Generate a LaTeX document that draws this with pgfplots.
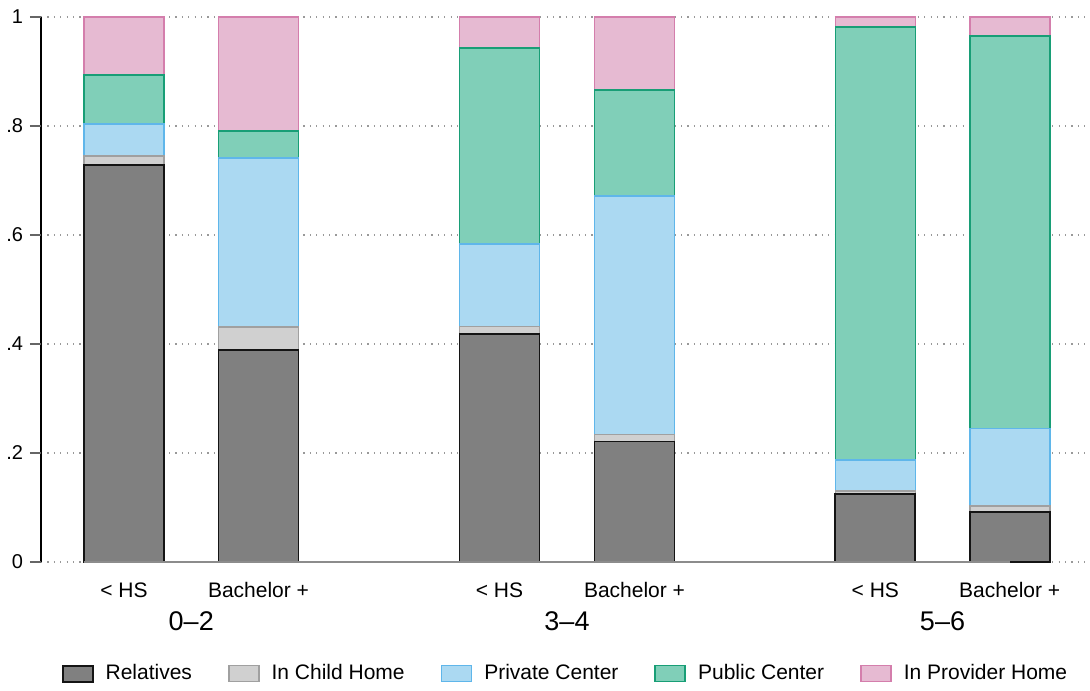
\documentclass[border=0pt]{standalone}
\usepackage{pgfplots}
\pgfplotsset{compat=1.18}
\usepackage{fontspec}
\setmainfont{Liberation Sans}
\definecolor{relF}{RGB}{128,128,128}
\definecolor{relD}{RGB}{20,20,20}
\definecolor{chF}{RGB}{208,208,208}
\definecolor{chD}{RGB}{160,160,160}
\definecolor{prF}{RGB}{171,217,242}
\definecolor{prD}{RGB}{95,182,234}
\definecolor{puF}{RGB}{128,207,184}
\definecolor{puD}{RGB}{24,158,118}
\definecolor{pvF}{RGB}{230,186,210}
\definecolor{pvD}{RGB}{212,126,172}
\begin{document}
\begin{tikzpicture}
\begin{axis}[
  at={(0,0)}, anchor=south west,
  scale only axis, width=523.5pt, height=272.5pt,
  xmin=41, xmax=1088, ymin=0, ymax=1,
  ybar stacked, bar width=40pt,
  clip=false,
  axis lines*=left,
  x axis line style={draw=none},
  y axis line style={black, line width=0.7pt},
  xtick={124,258.5,499.5,634.5,875.3,1009.7},
  xticklabels={{< HS},{Bachelor +},{< HS},{Bachelor +},{< HS},{Bachelor +}},
  every x tick/.style={draw=none},
  xticklabel style={font=\fontsize{10.5pt}{12pt}\selectfont, anchor=base, yshift=-12.3pt},
  ytick={0,0.2,0.4,0.6,0.8,1},
  yticklabels={0,.2,.4,.6,.8,1},
  ytick pos=left,
  yticklabel style={font=\fontsize{10pt}{12pt}\selectfont},
  every y tick/.style={black!60, line width=0.7pt},
  tick align=outside, major tick length=5.5pt,
  ymajorgrids,
  y grid style={black!40, line width=0.6pt, dash pattern=on 0.6pt off 2.6pt},
  legend columns=5,
  legend style={at={(axis description cs:0.5,0)}, anchor=center, yshift=-55.8pt, xshift=1pt,
    draw=none, font=\fontsize{10.5pt}{12pt}\selectfont,
    /tikz/every odd column/.append style={column sep=4pt},
    /tikz/every even column/.append style={column sep=16pt}},
  legend image code/.code={\draw[#1] (0pt,-4pt) rectangle (15pt,4pt);},
]
\draw[black!45, line width=0.6pt] (axis cs:84,0) -- (axis cs:1010,0);
\pgfplotsinvokeforeach{0,0.2,0.4,0.6,0.8,1}{
  \draw[black!60, line width=0.7pt] (axis cs:41,#1) -- ++(-5.5pt,0pt);
}
\addplot[fill=relF, draw=relD, line width=0.9pt] coordinates {(124,0.728) (258.5,0.389) (499.5,0.419) (634.5,0.221) (875.3,0.125) (1009.7,0.092)};
\addplot[fill=chF, draw=chD, line width=0.8pt] coordinates {(124,0.017) (258.5,0.042) (499.5,0.013) (634.5,0.013) (875.3,0.005) (1009.7,0.011)};
\addplot[fill=prF, draw=prD, line width=0.8pt] coordinates {(124,0.059) (258.5,0.310) (499.5,0.151) (634.5,0.438) (875.3,0.057) (1009.7,0.142)};
\addplot[fill=puF, draw=puD, line width=0.8pt] coordinates {(124,0.090) (258.5,0.050) (499.5,0.360) (634.5,0.194) (875.3,0.795) (1009.7,0.720)};
\addplot[fill=pvF, draw=pvD, line width=0.8pt] coordinates {(124,0.106) (258.5,0.209) (499.5,0.057) (634.5,0.134) (875.3,0.018) (1009.7,0.035)};
\legend{Relatives, In Child Home, Private Center, Public Center, In Provider Home}
\node[anchor=base, font=\fontsize{13.5pt}{16pt}\selectfont] at (axis cs:191.25,0) [yshift=-34pt] {0–2};
\node[anchor=base, font=\fontsize{13.5pt}{16pt}\selectfont] at (axis cs:567,0) [yshift=-34pt] {3–4};
\node[anchor=base, font=\fontsize{13.5pt}{16pt}\selectfont] at (axis cs:942.5,0) [yshift=-34pt] {5–6};
\end{axis}
\pgfresetboundingbox
\path[use as bounding box] (-20.5pt,-64pt) rectangle (524.5pt,281pt);
\end{tikzpicture}
\end{document}
